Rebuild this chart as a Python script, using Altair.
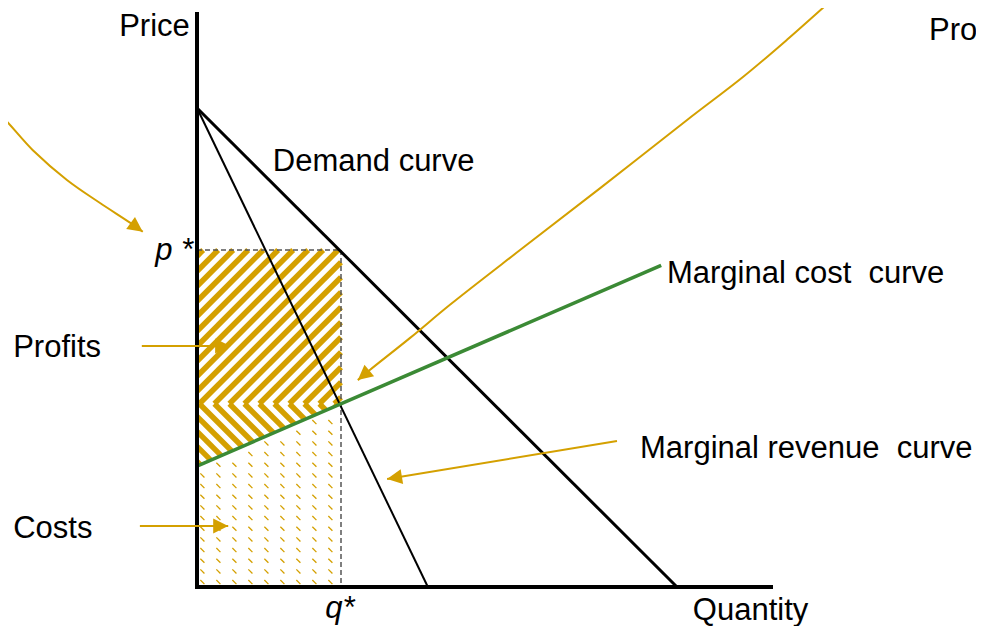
import math
import pandas as pd
import altair as alt

# ---------------- data (chart units: quantity, price) ----------------
axis_q = [0.0, 12.0]          # quantity axis extent
axis_p = [0.0, 11.98]         # price axis extent
demand_q = [0.0, 10.0]
demand_p = [9.98, 0.0]
mr_q = [0.0, 4.81]
mr_p = [9.98, 0.0]
mc_q = [0.0, 9.67]
mc_p = [2.52, 6.70]
q_star = 3.0
p_star = 7.02

# arrows (gold): points along each arrow, last point = tip
arrow_id = (["curve_left"] * 13 + ["curve_right"] * 10 +
            ["profits"] * 2 + ["costs"] * 2 + ["mr"] * 2)
arrow_q = [-3.58, -3.83, -4.10, -4.52, -4.83, -4.73, -4.35, -4.10, -3.42, -2.71, -2.02, -1.38, -1.13,
           13.29, 12.29, 11.38, 10.21, 8.40, 6.73, 5.27, 4.44, 3.60, 3.35,
           -1.15, 0.69,
           -1.19, 0.65,
           8.75, 3.96]
arrow_p = [12.44, 12.23, 12.04, 11.60, 10.98, 10.35, 9.98, 9.83, 9.10, 8.48, 8.00, 7.58, 7.40,
           12.29, 11.40, 10.63, 9.73, 8.31, 7.02, 5.88, 5.19, 4.52, 4.31,
           5.02, 5.02,
           1.27, 1.27,
           3.04, 2.25]

# labels
lab_text = ["Price", "Pro", "Demand curve", "p *",
            "Marginal cost\u00a0 curve", "Profits", "Marginal revenue\u00a0 curve",
            "Costs", "q*", "Quantity"]
lab_q = [-0.15, 15.25, 1.58, -0.08, 9.79, -3.83, 9.23, -3.83, 2.67, 10.33]
lab_p = [11.47, 11.40, 8.67, 6.81, 6.33, 4.79, 2.69, 1.02, -0.64, -0.69]
lab_align = ["right", "left", "left", "right", "left", "left", "left", "left", "left", "left"]
lab_style = ["normal", "normal", "normal", "italic", "normal", "normal", "normal",
             "normal", "italic", "normal"]

GOLD = "#D4A000"
GREEN = "#3B8A35"
FONT = "Liberation Sans"
FS = 31

W, H = 968, 618
XS = alt.Scale(domain=[-3.9375, 16.229], nice=False, zero=False)
YS = alt.Scale(domain=[-0.8125, 12.0625], nice=False, zero=False)


def X(f="x"):
    return alt.X(f"{f}:Q", scale=XS, axis=None)


def Y(f="y"):
    return alt.Y(f"{f}:Q", scale=YS, axis=None)


def seg_df(rows):
    return pd.DataFrame(rows, columns=["x", "y", "x2", "y2"])


def rules(df, **kw):
    return alt.Chart(df).mark_rule(**kw).encode(
        x=X("x"), y=Y("y"), x2="x2:Q", y2="y2:Q")


# ---------------- texture of the profit / cost areas ----------------
a = mc_p[0]
b = (mc_p[1] - mc_p[0]) / (mc_q[1] - mc_q[0])
pc = a + b * q_star          # marginal cost at q*

period = 0.3125
phase = 0.05
up_rows, down_rows = [], []
for k in range(-16, 16):
    qk = phase + k * period
    lo, hi = max(0.0, qk), min(q_star, qk + (p_star - pc))
    if hi > lo:
        up_rows.append((lo, lo - qk + pc, hi, hi - qk + pc))
    lo, hi = max(0.0, qk), min(q_star, (qk + pc - a) / (1 + b))
    if hi > lo:
        down_rows.append((lo, -lo + qk + pc, hi, -hi + qk + pc))

dot_rows = []
dash = 0.085
for i in range(40):
    p0 = 0.06 + i * 0.2222
    for j in range(12):
        q0 = 0.07 + j * 0.3333
        if q0 + dash <= q_star - 0.02 and p0 + dash <= a + b * q0 - 0.06:
            dot_rows.append((q0, p0 + dash, q0 + dash, p0))

tex_up = rules(seg_df(up_rows), color=GOLD, strokeWidth=5.5, strokeCap="butt")
tex_down = rules(seg_df(down_rows), color=GOLD, strokeWidth=5.5, strokeCap="butt")
tex_dots = rules(seg_df(dot_rows), color=GOLD, strokeWidth=1.3, strokeCap="butt")

# ---------------- lines ----------------
dashed = rules(seg_df([(0, p_star, q_star, p_star), (q_star, p_star, q_star, 0)]),
               color="#555555", strokeWidth=1.5, strokeDash=[5, 3])
demand = rules(seg_df([(demand_q[0], demand_p[0], demand_q[1], demand_p[1])]),
               color="black", strokeWidth=3)
mr = rules(seg_df([(mr_q[0], mr_p[0], mr_q[1], mr_p[1])]),
           color="black", strokeWidth=2)
mc = rules(seg_df([(mc_q[0], mc_p[0], mc_q[1], mc_p[1])]),
           color=GREEN, strokeWidth=3.5)
axes = rules(seg_df([(axis_q[0], -0.04, axis_q[0], axis_p[1]),
                     (axis_q[0] - 0.04, axis_p[0], axis_q[1], axis_p[0])]),
             color="black", strokeWidth=4)

# ---------------- arrows ----------------
adf = pd.DataFrame({"id": arrow_id, "x": arrow_q, "y": arrow_p})
adf["i"] = range(len(adf))
arrow_lines = alt.Chart(adf).mark_line(
    color=GOLD, strokeWidth=2, interpolate="catmull-rom").encode(
    x=X("x"), y=Y("y"), detail="id:N", order="i:Q")

heads = []
for name in dict.fromkeys(arrow_id):
    pts = adf[adf["id"] == name]
    (q1, p1), (q2, p2) = pts[["x", "y"]].values[-2], pts[["x", "y"]].values[-1]
    ang = math.degrees(math.atan2(-(p2 - p1), q2 - q1)) % 360
    heads.append({"x": q2, "y": p2, "ang": ang})
arrow_heads = alt.Chart(pd.DataFrame(heads)).mark_point(
    shape="M0,0L-2,-1L-2,1Z", filled=True, size=225, color=GOLD, opacity=1,
    strokeWidth=0).encode(
    x=X("x"), y=Y("y"), angle=alt.Angle("ang:Q", scale=None))

# ---------------- labels ----------------
ldf = pd.DataFrame({"t": lab_text, "x": lab_q, "y": lab_p,
                    "align": lab_align, "style": lab_style})
label_layers = []
for (al, st), g in ldf.groupby(["align", "style"]):
    label_layers.append(
        alt.Chart(g).mark_text(align=al, baseline="alphabetic", font=FONT,
                               fontSize=FS, fontStyle=st, color="black").encode(
            x=X("x"), y=Y("y"), text="t:N"))

chart = alt.layer(
    tex_dots, tex_down, tex_up, dashed, demand, mr, mc, axes,
    arrow_lines, arrow_heads, *label_layers
).properties(
    width=W, height=H, padding=0, autosize="none", background="white"
).configure_view(stroke=None)

chart.save("out.html", embed_options={"renderer": "svg", "actions": False})
